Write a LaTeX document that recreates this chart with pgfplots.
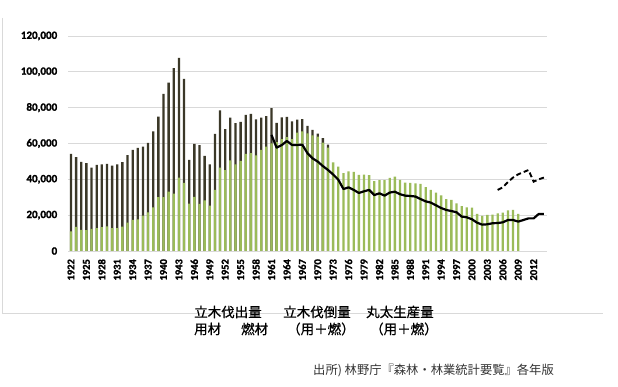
\documentclass[border=0pt]{standalone}
\usepackage{fontspec}
\setmainfont{Carlito}
\newfontfamily\tickfont{Carlito}[FakeBold=1.6]
\newfontfamily\cjk{Noto Sans CJK JP}
\newfontfamily\cjkb{Noto Sans CJK JP}[FakeBold=0.8]
\usepackage{pgfplots}
\pgfplotsset{compat=1.18}
\usepackage{pgfplotstable}
\definecolor{ygreen}{HTML}{9BBB59}
\definecolor{ndark}{HTML}{3B3828}
\definecolor{gridc}{HTML}{D9D9D9}

% total felling (youzai + nenzai), 1922-1972
\pgfplotstableread{
year total
1922 54200
1923 52400
1924 49800
1925 49000
1926 46500
1927 48000
1928 48400
1929 48600
1930 47600
1931 48400
1932 49600
1933 53500
1934 56400
1935 57500
1936 58300
1937 60400
1938 66700
1939 75000
1940 87700
1941 94000
1942 102000
1943 107800
1944 96100
1945 50800
1946 59800
1947 59100
1948 53100
1949 48400
1950 65400
1951 78500
1952 68000
1953 74500
1954 71400
1955 72000
1956 76000
1957 76500
1958 73400
1959 74400
1960 75300
1961 79700
1962 71500
1963 74600
1964 74800
1965 72300
1966 73300
1967 73600
1968 69900
1969 67600
1970 65500
1971 63000
1972 59400
}\totaltab

% youzai
\pgfplotstableread{
year val
1922 11000
1923 13400
1924 11800
1925 11600
1926 12300
1927 12700
1928 13300
1929 13700
1930 12700
1931 12800
1932 13600
1933 15900
1934 17300
1935 17700
1936 19700
1937 21600
1938 24400
1939 30100
1940 30000
1941 33100
1942 32000
1943 40900
1944 38000
1945 26400
1946 30200
1947 26300
1948 28300
1949 25300
1950 34100
1951 46600
1952 45100
1953 50600
1954 48400
1955 50300
1956 54200
1957 54600
1958 53300
1959 56400
1960 58300
1961 60000
1962 60700
1963 62400
1964 63500
1965 62400
1966 66100
1967 66700
1968 65700
1969 64500
1970 63900
1971 60500
1972 57700
1973 49400
1974 47100
1975 43400
1976 44500
1977 44100
1978 42500
1979 42600
1980 42400
1981 39000
1982 39600
1983 39600
1984 40800
1985 41500
1986 39700
1987 38100
1988 38000
1989 37800
1990 37400
1991 35600
1992 34100
1993 32600
1994 31100
1995 29000
1996 28500
1997 26600
1998 25100
1999 24400
2000 24200
2001 20700
2002 19600
2003 20100
2004 20300
2005 21000
2006 21400
2007 22700
2008 22900
2009 20700
}\youzaitab

% solid line
\pgfplotstableread{
year val
1961 64800
1962 57700
1963 59100
1964 61400
1965 59200
1966 59200
1967 59300
1968 54600
1969 51700
1970 49900
1971 47400
1972 45200
1973 42700
1974 39800
1975 34600
1976 35500
1977 34100
1978 32400
1979 33300
1980 34100
1981 31200
1982 32200
1983 30900
1984 32600
1985 33100
1986 31700
1987 30900
1988 30700
1989 30400
1990 29000
1991 27700
1992 27000
1993 25500
1994 24000
1995 22900
1996 22300
1997 21600
1998 19200
1999 18800
2000 17700
2001 15800
2002 14700
2003 14900
2004 15500
2005 15600
2006 16000
2007 17300
2008 17300
2009 16400
2010 17300
2011 18200
2012 18200
2013 20700
2014 20700
}\marutatab

% dashed line
\pgfplotstableread{
year val
2005 34100
2006 35500
2007 38500
2008 41000
2009 42800
2010 44000
2011 45200
2012 38700
2013 40000
2014 41000
}\batoutab

\begin{document}
\begin{tikzpicture}
\path[use as bounding box] (0,0) rectangle (618pt,387pt);
\fill[white] (0,0) rectangle (618pt,387pt);
\draw[gridc, line width=0.8pt] (2pt,369pt) -- (2pt,74pt) -- (603pt,74pt);
\begin{axis}[
  at={(68.4pt,136pt)}, anchor=south west,
  scale only axis, width=478.1pt, height=215pt,
  xmin=1921.5, xmax=2014.5, ymin=0, ymax=120000,
  axis line style={draw=none},
  major tick length=0pt,
  ymajorgrids, grid style={gridc, line width=0.9pt},
  ytick={0,20000,40000,60000,80000,100000,120000},
  xtick={1922,1925,...,2012},
  scaled y ticks=false,
  xticklabel={\pgfmathprintnumber[assume math mode=true,1000 sep={}]{\tick}},
  yticklabel={\pgfmathprintnumber[assume math mode=true,fixed,1000 sep={,}]{\tick}},
  y tick label style={font=\tickfont\bfseries\fontsize{11}{12}\selectfont, text=black, anchor=east, inner sep=0pt},
  x tick label style={font=\tickfont\bfseries\fontsize{10.5}{11}\selectfont, text=black, rotate=90, anchor=east, inner sep=0pt},
  xticklabel shift=8pt,
  yticklabel shift=11pt,
  clip=false,
]
\addplot[ybar, bar width=0.45, bar shift=0pt, fill=ndark, draw=none] table[x=year,y=total]{\totaltab};
\addplot[ybar, bar width=0.45, bar shift=0pt, fill=ygreen, draw=none] table[x=year,y=val]{\youzaitab};
\addplot[black, line width=2.2pt, mark=none, line join=round] table[x=year,y=val]{\marutatab};
\addplot[black, line width=1.9pt, mark=none, dash pattern=on 5pt off 3pt] table[x=year,y=val]{\batoutab};
\end{axis}
\begin{scope}[every node/.style={anchor=west, inner sep=0pt, font=\cjkb\fontsize{13.5}{14}\selectfont}]
\node at (194pt,75pt) {立木伐出量};
\node at (283pt,75pt) {立木伐倒量};
\node at (366pt,75pt) {丸太生産量};
\node at (194pt,58pt) {用材};
\node at (241pt,58pt) {燃材};
\node at (287pt,58pt) {（用＋燃）};
\node at (370pt,58pt) {（用＋燃）};
\node[font=\cjk\fontsize{12.3}{14}\selectfont, text=black!80] at (313pt,17pt) {出所) 林野庁『森林・林業統計要覧』各年版};
\end{scope}
\end{tikzpicture}
\end{document}
